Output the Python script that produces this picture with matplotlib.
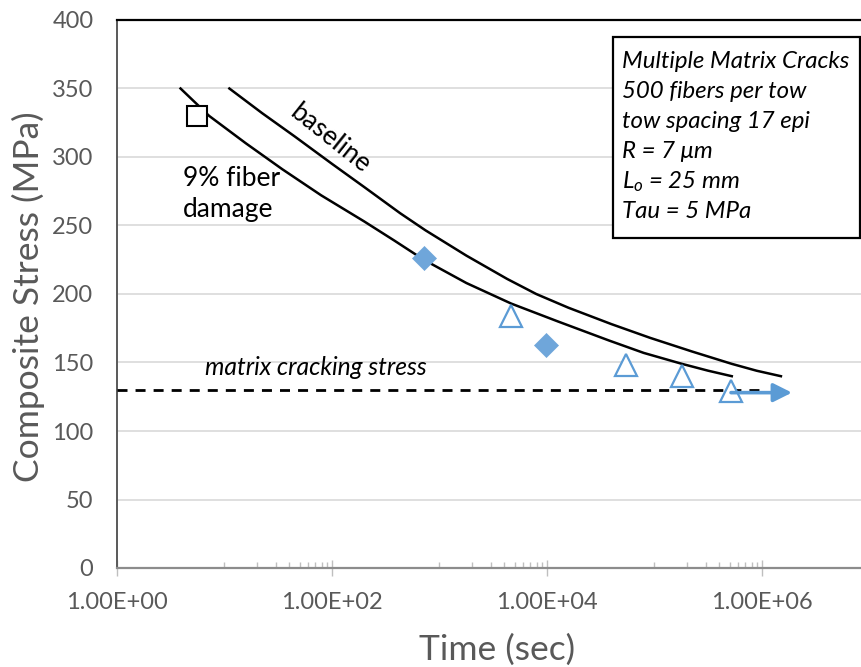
import matplotlib
matplotlib.use("Agg")
import matplotlib.pyplot as plt
from matplotlib.patches import Rectangle
from matplotlib.ticker import FixedLocator, NullFormatter

plt.rcParams['font.family'] = ['Lato', 'DejaVu Sans']
plt.rcParams['mathtext.fontset'] = 'custom'
plt.rcParams['mathtext.it'] = 'Lato:italic'
plt.rcParams['mathtext.rm'] = 'Lato'

# Model curves: rupture time (s) vs composite stress (MPa)
time_base = [11.1, 22.4, 45, 100, 200, 430, 740, 1780, 4260, 7940, 15800,
             39800, 91000, 224000, 524000, 891000, 1.5e6]
stress_base = [350, 332, 315, 295, 278, 259, 246.5, 228, 211, 200, 190,
               178, 168, 158, 149, 144, 140]

time_9pct = [3.9, 7.2, 15.8, 34.6, 79.4, 199, 380, 714, 1780, 4650, 12600,
             37900, 79400, 180300, 316000, 523600]
stress_9pct = [350, 330, 310, 291, 272, 253, 239, 225, 208, 193, 180,
               166, 157, 149, 144, 140]

# Test data
square_time = [5.6]
square_stress = [330]
diamond_time = [715, 9770]
diamond_stress = [226.5, 163]
triangle_time = [4650, 53900, 180000, 515000]
triangle_stress = [184, 148, 140.5, 129.5]

# Runout arrow on the last test and the matrix cracking stress
runout_start = 515000
runout_end = 1.9e6
runout_stress = 128
matrix_crack_stress = 130
matrix_crack_tmax = 1.07e6

x_major = [1, 1e2, 1e4, 1e6]
x_labels = ["1.00E+00", "1.00E+02", "1.00E+04", "1.00E+06"]
y_ticks = [0, 50, 100, 150, 200, 250, 300, 350, 400]

box_lines = ["Multiple Matrix Cracks", "500 fibers per tow", "tow spacing 17 epi",
             "R = 7 \u03bcm", "$L_o$ = 25 mm", "Tau = 5 MPa"]

W, H = 861, 667
fig = plt.figure(figsize=(W / 100, H / 100), dpi=100)
ax = fig.add_axes([117 / W, (H - 568) / H, (W - 117) / W, 548 / H])

gray_text = '#595959'
blue = '#5b9bd5'

ax.set_xscale('log')
ax.set_xlim(1, 10 ** 6.921)
ax.set_ylim(0, 400)

ax.set_yticks(y_ticks)
ax.yaxis.grid(True, color='#d9d9d9', lw=1.2, zorder=0)
ax.set_axisbelow(True)
ax.tick_params(axis='y', length=0, pad=17, labelsize=17, labelcolor=gray_text)

ax.xaxis.set_major_locator(FixedLocator(x_major))
ax.set_xticklabels(x_labels)
minor = [m * 10 ** e for e in (1, 3, 5) for m in range(1, 10)]
ax.xaxis.set_minor_locator(FixedLocator(minor))
ax.xaxis.set_minor_formatter(NullFormatter())
ax.tick_params(axis='x', which='major', direction='inout', length=12, width=1,
               color='#bfbfbf', pad=11, labelsize=17, labelcolor=gray_text)
ax.tick_params(axis='x', which='minor', direction='in', length=4.5, width=1,
               color='#bfbfbf')

ax.spines['right'].set_visible(False)
ax.spines['top'].set_color('black')
ax.spines['top'].set_linewidth(1.6)
ax.spines['left'].set_color('#595959')
ax.spines['left'].set_linewidth(1.4)
ax.spines['bottom'].set_color('#8c8c8c')
ax.spines['bottom'].set_linewidth(1.6)

# matrix cracking stress
ax.plot([1, matrix_crack_tmax], [matrix_crack_stress] * 2, color='black', lw=2,
        dashes=(3.6, 2.9), zorder=3)

# model curves
ax.plot(time_base, stress_base, color='black', lw=1.8, zorder=4,
        solid_joinstyle='round')
ax.plot(time_9pct, stress_9pct, color='black', lw=1.8, zorder=4,
        solid_joinstyle='round')

# test points
ax.plot(square_time, square_stress, ls='none', marker='s', ms=14.5, mfc='white',
        mec='black', mew=1.5, zorder=5)
ax.plot(diamond_time, diamond_stress, ls='none', marker='D', ms=12.5, mfc='#6fa6da',
        mec='#6fa6da', mew=0.5, zorder=5)
ax.plot(triangle_time, triangle_stress, ls='none', marker='^', ms=16.5, mfc='white',
        mec=blue, mew=1.6, zorder=5)

ax.annotate('', xy=(runout_end, runout_stress), xytext=(runout_start, runout_stress),
            arrowprops=dict(arrowstyle='-|>', color=blue, lw=2.6, mutation_scale=28,
                            shrinkA=0, shrinkB=0), zorder=6)

# annotations
ax.text(0.2863, 0.7828, "baseline", transform=ax.transAxes, rotation=-38.5,
        rotation_mode='anchor', ha='center', va='center', fontsize=19, color='black')
ax.text(0.0887, 0.683, "9% fiber\ndamage", transform=ax.transAxes, ha='left',
        va='center', fontsize=19, color='black', linespacing=1.3)
ax.text(0.118, 0.365, "matrix cracking stress", transform=ax.transAxes, ha='left',
        va='center', fontsize=17.7, style='italic', color='black')

ax.add_patch(Rectangle((0.6667, 0.6022), 0.332, 0.3668, transform=ax.transAxes,
                       fill=True, facecolor='white', edgecolor='black', lw=1.6,
                       zorder=7, clip_on=False))
for i, line in enumerate(box_lines):
    ax.text(0.6788, 0.924 - i * 0.0547, line, transform=ax.transAxes, ha='left',
            va='center', fontsize=17.3, style='italic', color='black', zorder=8)

ax.set_xlabel("Time (sec)", fontsize=25.5, color=gray_text)
ax.set_ylabel("Composite Stress (MPa)", fontsize=25.5, color=gray_text)
ax.xaxis.set_label_coords(0.5108, -0.1496)
ax.xaxis.label.set_va('center')
ax.yaxis.set_label_coords(-0.1196, 0.4945)
ax.yaxis.label.set_va('center')

fig.savefig("out.png", dpi=100)
